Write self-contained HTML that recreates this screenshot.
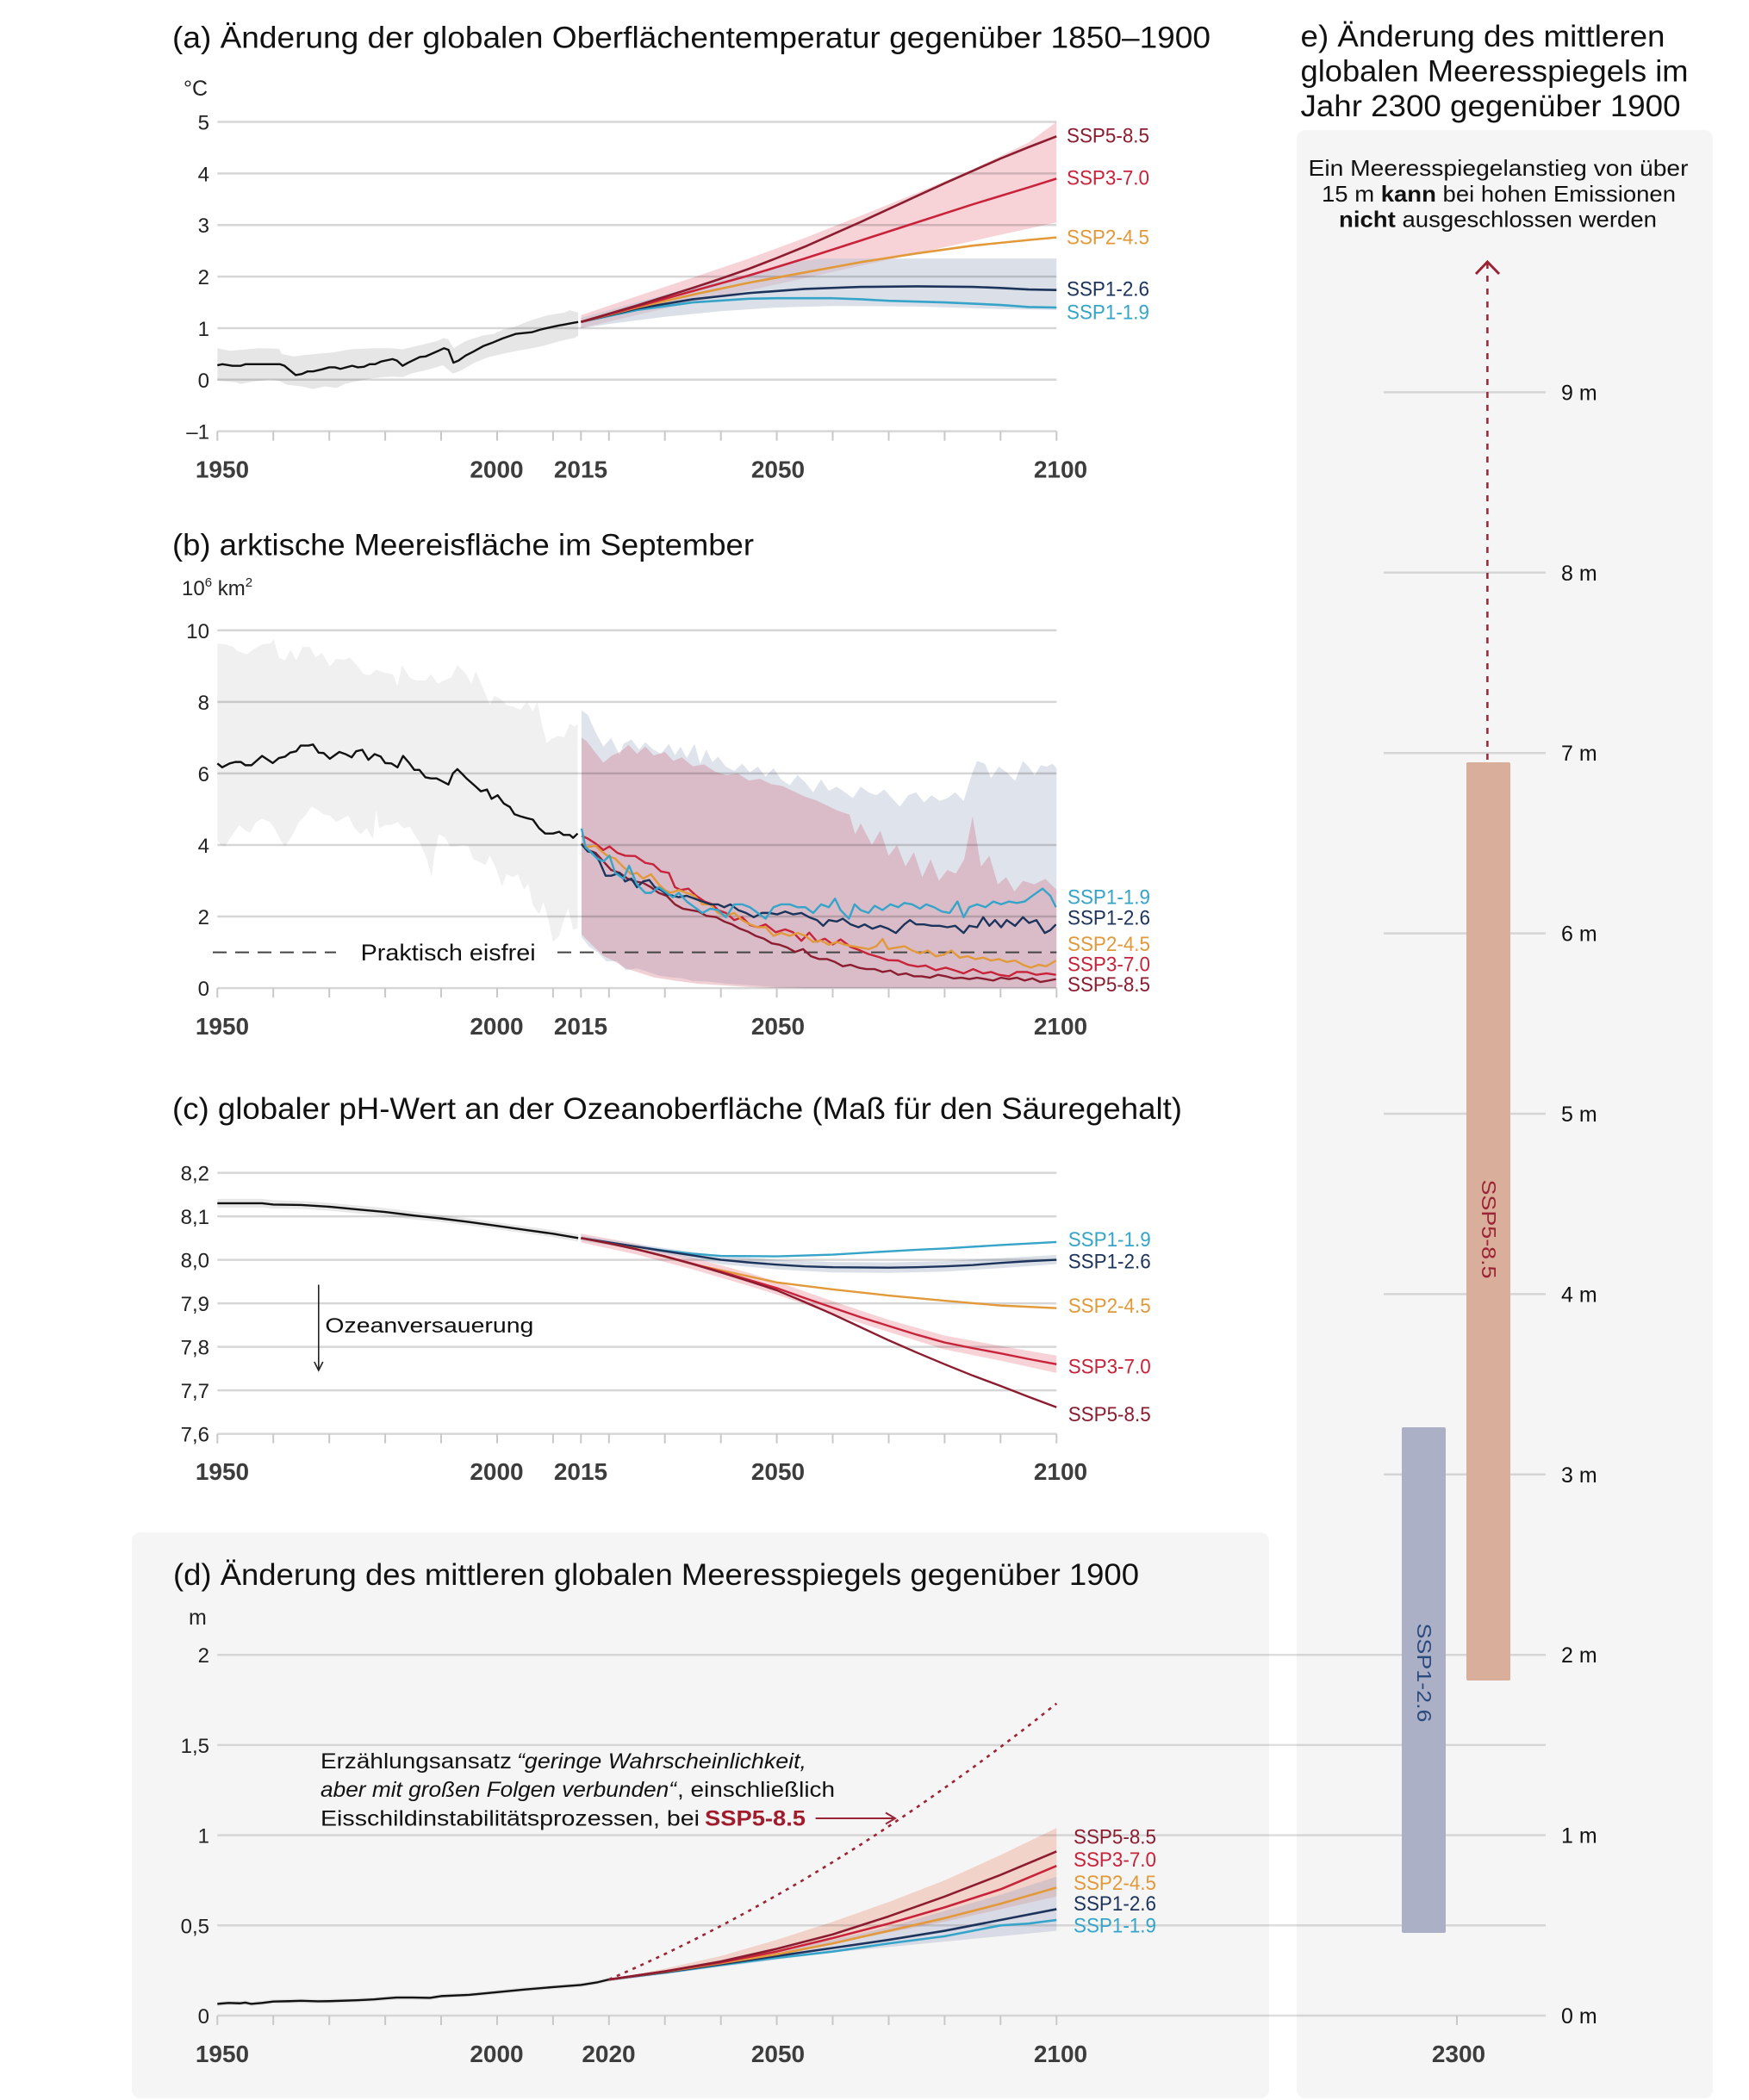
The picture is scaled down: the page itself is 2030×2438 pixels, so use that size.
<!DOCTYPE html>
<html><head><meta charset="utf-8"><style>
html,body{margin:0;padding:0;background:#fff;}
svg{display:block;}
text{font-family:"Liberation Sans",Arial,sans-serif;}
</style></head><body>
<svg xmlns="http://www.w3.org/2000/svg" width="2030" height="2438">
<defs>
<path id="tk" d="M252.3 0v11M317.2 0v11M382.2 0v11M447.1 0v11M512 0v11M577 0v11M641.9 0v11M674.3 0v11M706.8 0v11M771.7 0v11M836.7 0v11M901.6 0v11M966.5 0v11M1031.5 0v11M1096.4 0v11M1161.3 0v11M1226.3 0v11" stroke="#c8c8c8" stroke-width="2" fill="none"/>
<path id="tkd" d="M252.3 0v11M317.2 0v11M382.2 0v11M447.1 0v11M512 0v11M577 0v11M641.9 0v11M706.8 0v11M771.7 0v11M836.7 0v11M901.6 0v11M966.5 0v11M1031.5 0v11M1096.4 0v11M1161.3 0v11M1226.3 0v11" stroke="#c8c8c8" stroke-width="2" fill="none"/>
</defs>
<rect width="2030" height="2438" fill="#fff"/>
<!-- panel backgrounds -->
<rect x="153" y="1779" width="1320" height="657" rx="10" fill="#f5f5f5"/>
<rect x="1505" y="151" width="483" height="2285" rx="10" fill="#f5f5f5"/>

<!-- ================= PANEL A ================= -->
<text x="200" y="55.5" font-size="35" fill="#111" textLength="1205" lengthAdjust="spacingAndGlyphs">(a) Änderung der globalen Oberflächentemperatur gegenüber 1850–1900</text>
<text x="213" y="111" font-size="25" fill="#222">°C</text>
<g transform="translate(252.3,440.8) scale(6.493,-59.85)">
<polygon fill="#e6e6e6" points="0,0.61 2.2,0.56 5.3,0.59 7.3,0.61 11,0.6 11.5,0.5 13.6,0.45 15.6,0.48 17.7,0.5 20.7,0.53 23.8,0.59 27.9,0.61 31,0.61 33.1,0.59 36.2,0.67 39.3,0.75 40.5,0.81 41.3,0.78 42.2,0.61 44.4,0.75 47.5,0.86 49.5,0.89 51,0.97 53,1.02 56,1.15 59,1.25 62,1.3 63,1.35 64.5,1.3 64.5,0.85 63.8,0.81 61.3,0.75 58.7,0.67 56.7,0.62 53.6,0.56 51,0.5 48.5,0.44 46,0.33 43.4,0.17 42.1,0.12 40.3,0.28 38.5,0.22 36.7,0.17 34.7,0.12 33.1,0.05 31,0.06 27.9,0.03 25.3,-0.02 22.8,-0.08 21.3,-0.16 19.2,-0.13 17.1,-0.18 15.1,-0.13 12.5,-0.1 11,-0.02 9.3,0 6.2,-0.04 4.2,-0.08 3.2,-0.05 0,-0.02"/>
<polygon fill="#f7d3d8" points="65,1.25 75,1.62 85,1.98 95,2.35 105,2.75 115,3.18 125,3.62 135,4.08 145,4.6 150,5.0 150,3.05 125,2.45 100,1.85 80,1.38 65,1.0"/>
<polygon fill="#b8c2d2" fill-opacity="0.5" points="65,1.2 75,1.5 85,1.8 95,2.05 103,2.28 108,2.35 150,2.35 150,1.35 140,1.37 125,1.42 110,1.43 100,1.4 90,1.33 80,1.22 70,1.08 65,1.0"/>
</g>
<g stroke="#000" stroke-opacity="0.16" stroke-width="2.5">
<line x1="252.3" x2="1226.3" y1="141.55" y2="141.55"/>
<line x1="252.3" x2="1226.3" y1="201.4" y2="201.4"/>
<line x1="252.3" x2="1226.3" y1="261.25" y2="261.25"/>
<line x1="252.3" x2="1226.3" y1="321.1" y2="321.1"/>
<line x1="252.3" x2="1226.3" y1="380.95" y2="380.95"/>
<line x1="252.3" x2="1226.3" y1="440.8" y2="440.8"/>
<line x1="252.3" x2="1226.3" y1="500.65" y2="500.65"/>
</g>
<use href="#tk" y="500.6"/>
<g transform="translate(252.3,440.8) scale(6.493,-59.85)" fill="none" stroke-linejoin="round">
<polyline vector-effect="non-scaling-stroke" stroke="#111" stroke-width="2.4" points="0,0.28 0.9,0.3 2.7,0.27 4.2,0.27 5,0.3 11.2,0.3 12,0.27 14,0.09 15.1,0.11 16.1,0.16 17.1,0.16 18.7,0.2 20,0.24 21,0.24 22,0.21 24.1,0.27 25.1,0.24 26.2,0.25 27.2,0.3 28.2,0.3 29.2,0.35 31.3,0.4 32.1,0.37 33.1,0.27 34.1,0.33 36.2,0.44 37.2,0.45 39.3,0.55 40.5,0.61 41.3,0.58 42.2,0.33 43.1,0.37 44.4,0.47 45.7,0.54 47.5,0.65 49,0.71 51,0.8 53.4,0.89 56.2,0.92 57.7,0.97 59.3,1.01 61,1.05 62,1.07 63.5,1.1 64.5,1.12"/>
<polyline vector-effect="non-scaling-stroke" stroke="#36a4c9" stroke-width="2.6" points="65,1.12 75,1.35 85,1.5 95,1.57 100,1.58 110,1.58 115,1.56 120,1.53 130,1.5 140,1.45 145,1.41 150,1.4"/>
<polyline vector-effect="non-scaling-stroke" stroke="#1c335c" stroke-width="2.6" points="65,1.12 75,1.38 85,1.56 95,1.68 105,1.76 115,1.8 125,1.81 135,1.8 140,1.78 145,1.75 150,1.74"/>
<polyline vector-effect="non-scaling-stroke" stroke="#e2993a" stroke-width="2.6" points="65,1.12 75,1.4 85,1.65 95,1.88 105,2.08 115,2.28 125,2.45 135,2.6 145,2.71 150,2.76"/>
<polyline vector-effect="non-scaling-stroke" stroke="#c8233a" stroke-width="2.6" points="65,1.12 75,1.42 85,1.72 95,2.02 105,2.35 115,2.7 125,3.05 135,3.4 145,3.73 150,3.9"/>
<polyline vector-effect="non-scaling-stroke" stroke="#8c1c2f" stroke-width="2.6" points="65,1.12 70,1.28 75,1.44 80,1.61 85,1.78 90,1.96 95,2.15 100,2.36 105,2.58 110,2.82 115,3.06 120,3.31 125,3.56 130,3.81 135,4.05 140,4.29 145,4.51 150,4.72"/>
</g>
<g font-size="24" fill="#222" text-anchor="end">
<text x="243" y="150.5">5</text><text x="243" y="210.4">4</text><text x="243" y="270.2">3</text><text x="243" y="330.1">2</text><text x="243" y="390">1</text><text x="243" y="449.8">0</text><text x="243" y="509.6">–1</text>
</g>
<g font-size="28" font-weight="bold" fill="#3d3d3d" text-anchor="middle">
<text x="258" y="554.6">1950</text><text x="576.5" y="554.6">2000</text><text x="674" y="554.6">2015</text><text x="903" y="554.6">2050</text><text x="1231" y="554.6">2100</text>
</g>
<g font-size="24">
<text x="1238" y="165.7" fill="#8c1c2f" textLength="96" lengthAdjust="spacingAndGlyphs">SSP5-8.5</text>
<text x="1238" y="214.3" fill="#c8233a" textLength="96" lengthAdjust="spacingAndGlyphs">SSP3-7.0</text>
<text x="1238" y="283.3" fill="#e2993a" textLength="96" lengthAdjust="spacingAndGlyphs">SSP2-4.5</text>
<text x="1238" y="343.3" fill="#1c335c" textLength="96" lengthAdjust="spacingAndGlyphs">SSP1-2.6</text>
<text x="1238" y="370.7" fill="#36a4c9" textLength="96" lengthAdjust="spacingAndGlyphs">SSP1-1.9</text>
</g>

<!-- ================= PANEL B ================= -->
<text x="200" y="644.5" font-size="35" fill="#111" textLength="675" lengthAdjust="spacingAndGlyphs">(b) arktische Meereisfläche im September</text>
<text x="211" y="691" font-size="24" fill="#222">10<tspan font-size="15" dy="-10">6</tspan><tspan dy="10"> km</tspan><tspan font-size="15" dy="-10">2</tspan></text>
<g transform="translate(252.3,1147.1) scale(6.493,-41.53)">
<polygon fill="#f0f0f0" points="0,9.63 1.4,9.61 2.8,9.54 3.6,9.42 5.3,9.33 6.4,9.46 8,9.61 9.4,9.63 10.1,9.74 11,9.24 12.1,9.16 13.1,9.46 14.1,9.16 15.2,9.53 16.5,9.54 17.6,9.24 18.7,9.37 20.1,8.99 21.2,9.2 22.6,9.18 23.7,9.24 25.1,8.99 26.2,8.77 27.3,8.75 28.4,8.9 30,8.81 31.4,8.77 32.2,8.43 33,9.03 34.4,8.68 35.5,8.6 37.2,8.6 38.2,8.77 39.4,8.51 40.5,8.6 41.8,8.68 42.9,9.03 44.3,8.81 45.4,8.51 46.2,8.86 47.6,8.34 48.7,7.91 49.5,8.17 50.6,8.08 51.7,7.91 52.8,7.87 54.2,7.78 55.3,8 56.4,7.74 57.2,8 58.1,7.31 58.9,6.84 59.7,6.96 60.9,7.05 62,7.01 63,7.39 63.9,7.31 64.4,7.39 64.4,1.68 63.6,1.63 62.7,2.24 61.9,1.89 61.1,1.46 60,1.29 59.2,1.89 58.3,2.41 57.5,2.06 56.4,2.32 55.6,2.92 54.8,2.75 53.7,3.18 52.8,3.1 51.7,3.18 50.9,2.84 49.8,3.35 48.7,3.7 47.9,3.44 46.8,3.53 45.7,3.61 44.9,3.96 43.8,4 42.7,3.96 41.6,3.96 40.7,4.21 39.6,4.3 38.8,3.74 38.3,3.1 37.4,3.61 36.3,4.04 35.2,4.3 34.4,4.51 33.3,4.47 32.2,4.64 31.1,4.56 30,4.56 28.9,4.47 28.4,4.99 27.8,4.17 26.7,4.47 25.6,4.3 24.5,4.47 23.4,4.82 22.3,4.73 21.2,4.64 20.1,4.82 19,4.86 17.9,4.99 16.8,5.07 15.7,4.82 14.6,4.64 13.5,4.3 12.1,3.96 11.3,4.13 10.2,4.47 9.4,4.64 8,4.73 6.9,4.64 5.8,4.34 4.8,4.43 3.9,4.56 3.1,4.38 2.2,4.17 1.4,3.96 0.6,4 0,4.13"/>
<polygon fill="#dfe3eb" points="65.1,7.76 66.2,7.64 67.6,7.15 69,6.75 70.4,6.99 71.9,6.51 72.6,6.83 74,6.95 75.4,6.67 76.5,6.87 77.9,6.67 79.3,6.55 80.7,6.83 81.8,6.51 82.8,6.75 83.9,6.43 85.3,6.83 86.3,6.27 87.4,6.67 88.5,6.31 89.5,6.47 90.9,6.19 92.4,6.07 93.8,6.27 95.2,6.03 96.6,6.19 98,5.91 99.4,6.15 100.8,5.83 102.3,5.67 103.7,5.95 105.1,5.75 106.5,5.47 107.9,5.83 109.3,5.51 110.7,5.63 112.2,5.47 113.6,5.31 115,5.63 116.4,5.47 117.8,5.39 119.2,5.55 120.6,5.31 122,5.07 123.5,5.39 124.9,5.47 126.3,5.19 127.7,5.39 129.1,5.23 130.5,5.31 131.9,5.47 133.4,5.23 134.8,5.95 135.8,6.35 137.2,6.27 138.3,5.87 139.7,6.19 141.1,6.03 142.6,5.79 144,6.35 145,6.19 146.1,5.95 147.2,6.23 148.2,6.19 149.3,6.27 150,6.15 150,0 105,0 100,0.03 95,0.08 91,0.12 88,0.18 85,0.2 83,0.28 81,0.3 79,0.35 77,0.45 75,0.55 73,0.5 71.5,0.75 69.5,0.75 68,1 66.5,1.15 65.1,1.42"/>
<polygon fill="rgb(205,100,115)" fill-opacity="0.3" points="65.1,7.0 66,6.9 67.5,6.6 69,6.3 70.5,6.5 72,6.6 73.5,6.8 75,6.55 76.5,6.75 78,6.5 80,6.6 81.5,6.35 83,6.45 85,6.2 87,6.25 89,6.05 91,5.95 93,6.0 95,5.8 97,5.85 99,5.7 101,5.65 103,5.5 105,5.35 107,5.25 109,5.1 111,4.95 113,4.85 114,4.3 115,4.6 117,4.0 118.5,4.4 120,3.7 121.5,4.0 123,3.4 124.5,3.8 126,3.1 127.5,3.6 129,3.0 130.5,3.3 132,3.2 133.5,3.6 135,4.8 136.5,3.4 138,3.7 139.5,2.9 141,3.1 142.5,2.7 144,3.0 146,2.9 148,3.05 150,2.75 150,0 100,0 95,0.03 90,0.08 86,0.12 82,0.2 78,0.3 75,0.45 73,0.55 71,0.75 69,0.9 67,1.2 65.1,1.5"/>
</g>
<g stroke="#000" stroke-opacity="0.16" stroke-width="2.5">
<line x1="252.3" x2="1226.3" y1="731.8" y2="731.8"/>
<line x1="252.3" x2="1226.3" y1="814.9" y2="814.9"/>
<line x1="252.3" x2="1226.3" y1="897.9" y2="897.9"/>
<line x1="252.3" x2="1226.3" y1="981" y2="981"/>
<line x1="252.3" x2="1226.3" y1="1064" y2="1064"/>
<line x1="252.3" x2="1226.3" y1="1147.1" y2="1147.1"/>
</g>
<use href="#tk" y="1147.1"/>
<g stroke="#444" stroke-width="2" stroke-dasharray="16 10">
<line x1="247" x2="390" y1="1105.6" y2="1105.6"/>
<line x1="647" x2="1226.3" y1="1105.6" y2="1105.6"/>
</g>
<text x="418.6" y="1115" font-size="27" fill="#111" textLength="203" lengthAdjust="spacingAndGlyphs">Praktisch eisfrei</text>
<g transform="translate(252.3,1147.1) scale(6.493,-41.53)" fill="none" stroke-linejoin="round">
<polyline vector-effect="non-scaling-stroke" stroke="#111" stroke-width="2.4" points="0,6.28 0.86,6.17 2.2,6.28 3.2,6.32 4.2,6.32 5,6.23 6.1,6.23 8,6.49 9.9,6.29 11,6.43 12.1,6.47 13,6.58 14.1,6.62 14.9,6.78 16.3,6.78 17.1,6.81 18.1,6.58 19,6.57 20.1,6.41 21.8,6.6 22.9,6.54 24,6.45 24.8,6.62 25.9,6.66 27,6.38 28.1,6.54 29.2,6.47 30,6.29 31.1,6.28 32.2,6.17 33.2,6.49 34.3,6.29 35.2,6.1 36.1,6.1 37.2,5.89 38.2,5.86 39.2,5.86 40.2,5.78 41.3,5.69 42.1,6 42.9,6.12 43.8,5.98 44.6,5.85 46.2,5.63 47.1,5.5 48.2,5.55 49,5.29 50.1,5.39 51.2,5.16 52.3,5.06 53.1,4.86 54.2,4.8 55.3,4.75 56.4,4.71 57.5,4.47 58.6,4.32 60,4.32 61.1,4.37 61.9,4.28 63,4.28 63.6,4.2 64.4,4.32"/>
<polyline vector-effect="non-scaling-stroke" stroke="#8c1c2f" stroke-width="2.4" points="65.1,4.04 66.2,3.86 67.6,3.78 69,3.54 70.4,3.3 71.9,3.22 73.3,3.06 74.7,2.98 76.1,2.94 77.5,2.82 78.9,2.66 80.3,2.58 81.8,2.34 83.2,2.22 84.6,2.18 86,2.14 87.4,2.02 89.2,1.98 90.6,1.86 92,1.78 93.4,1.66 94.8,1.58 96.2,1.46 97.7,1.38 99.1,1.25 100.5,1.21 101.9,1.13 103.3,1.01 104.7,1.09 106.1,0.89 107.6,0.81 109,0.81 110.4,0.73 111.8,0.61 113.2,0.65 114.6,0.57 116,0.53 117.5,0.53 118.9,0.45 120.3,0.49 121.7,0.37 123.1,0.41 124.5,0.33 125.9,0.33 127.4,0.29 128.8,0.37 130.2,0.33 131.6,0.27 133,0.29 134.4,0.25 135.8,0.29 137.3,0.25 138.7,0.21 140.1,0.29 141.5,0.25 142.9,0.29 144.3,0.21 145.7,0.27 147.1,0.17 148.6,0.21 149.9,0.25"/>
<polyline vector-effect="non-scaling-stroke" stroke="#c8233a" stroke-width="2.4" points="65.1,4.26 66.2,4.18 67.6,4.04 69,3.86 70.1,3.96 71.5,3.78 72.9,3.7 74.7,3.69 76.5,3.5 77.9,3.46 79.3,3.26 80.7,3.22 81.8,2.82 82.8,2.74 84.2,2.78 85.6,2.58 87.1,2.42 88.5,2.34 89.5,2.18 90.9,2.1 92.4,1.9 93.8,1.98 95.2,1.76 96.6,1.7 98,1.78 99.8,1.56 101.5,1.64 102.9,1.56 104.4,1.32 105.8,1.55 107.2,1.3 108.6,1.38 110,1.22 111.4,1.36 113.2,1.15 114.6,1.07 116.4,0.95 118.2,0.87 119.9,0.78 121.7,0.77 123.5,0.65 125.2,0.6 126.6,0.63 128.4,0.5 130.2,0.57 131.9,0.49 133.4,0.41 135.1,0.53 136.9,0.41 138.3,0.45 139.7,0.37 141.5,0.33 142.9,0.45 144.7,0.45 146.4,0.37 148.2,0.41 149.9,0.37"/>
<polyline vector-effect="non-scaling-stroke" stroke="#e2993a" stroke-width="2.4" points="65.1,4.02 66.2,3.94 67.6,3.98 68.7,3.82 69.7,3.7 71.1,3.62 72.6,3.38 74,3.18 75,3.22 76.1,3.06 77.5,3.18 78.9,2.9 80,2.74 81,2.66 82.5,2.74 83.9,2.66 85.3,2.58 86.7,2.34 88.1,2.34 89.5,2.1 90.9,2.02 92.4,2.1 93.8,1.9 95.2,1.78 96.6,1.7 98,1.7 99.4,1.46 100.8,1.54 102.3,1.46 103.7,1.54 105.1,1.46 106.5,1.29 107.9,1.33 109.3,1.21 110.7,1.29 112.2,1.21 113.6,1.17 115,1.13 116.4,1.09 117.8,1.17 118.9,1.37 119.9,1.09 121.3,1.13 122.8,1.17 124.2,1.05 125.6,0.97 127,1.05 128.4,0.89 129.8,0.93 131.2,1.05 132.7,0.85 134.1,0.89 135.5,0.81 136.9,0.85 138.3,0.77 139.7,0.81 141.1,0.73 142.6,0.77 144,0.65 145.4,0.57 146.8,0.65 148.2,0.61 149.9,0.77"/>
<polyline vector-effect="non-scaling-stroke" stroke="#1c335c" stroke-width="2.4" points="65.1,4.02 66.2,3.82 67.3,3.78 68.3,3.54 69.4,3.14 70.4,3.14 71.9,3.22 72.9,2.98 74,3.06 75,2.82 76.1,2.98 77.2,3.02 78.2,2.82 79.3,2.74 80.3,2.62 81.4,2.58 82.5,2.54 83.9,2.58 85.3,2.5 86.7,2.42 88.1,2.34 89.5,2.34 90.6,2.26 91.7,2.34 93.1,2.18 94.5,2.1 95.9,1.98 97.3,2.1 98.7,2.1 100.1,2.06 101.5,2.14 102.9,2.06 104.4,2.1 105.8,1.98 107.2,1.9 108.3,1.74 109.3,1.9 110.7,1.86 111.8,1.94 113.2,1.78 114.6,1.7 115.7,1.78 117.1,1.66 118.5,1.74 119.9,1.66 121.3,1.54 122.8,1.78 123.8,1.9 124.9,1.78 126.3,1.78 127.7,1.74 129.1,1.74 130.5,1.7 131.9,1.74 133.4,1.54 134.4,1.74 135.8,1.7 136.9,1.98 138,1.74 139,1.9 140.1,1.7 141.1,1.9 142.6,1.74 144,1.98 145.1,1.82 146.4,1.9 147.9,1.54 148.9,1.62 149.9,1.78"/>
<polyline vector-effect="non-scaling-stroke" stroke="#36a4c9" stroke-width="2.4" points="65.1,4.46 65.8,3.94 66.9,3.78 67.9,3.62 69,3.54 70.1,3.7 71.1,3.22 72.6,3.06 73.6,3.42 75,2.9 76.5,2.66 77.5,2.66 78.9,2.82 80,2.7 81.4,2.54 82.5,2.66 83.9,2.42 85.3,2.26 86.7,2.1 88.1,2.22 89.5,2.18 90.9,1.98 92.4,2.34 93.8,2.34 95.2,2.26 96.6,2.1 98,1.94 99.4,2.26 100.8,2.34 102.3,2.34 103.7,2.26 105.1,2.26 106.5,2.1 107.9,2.34 109.3,2.26 110.4,2.5 111.4,2.18 112.9,1.94 113.9,2.34 115,2.18 116.4,2.1 117.5,2.3 118.9,2.18 120.3,2.34 121.7,2.26 122.8,2.38 124.2,2.34 125.6,2.22 126.7,2.34 128.1,2.26 129.5,2.14 130.9,2.1 132.3,2.42 133.4,1.98 134.4,2.26 135.8,2.34 137.3,2.26 138.7,2.42 140.1,2.34 141.5,2.42 142.9,2.38 144.3,2.42 145.7,2.58 147.5,2.78 148.9,2.58 149.9,2.26"/>
</g>
<g font-size="24" fill="#222" text-anchor="end">
<text x="243" y="740.8">10</text><text x="243" y="823.9">8</text><text x="243" y="906.9">6</text><text x="243" y="990">4</text><text x="243" y="1073">2</text><text x="243" y="1156.1">0</text>
</g>
<g font-size="28" font-weight="bold" fill="#3d3d3d" text-anchor="middle">
<text x="258" y="1201">1950</text><text x="576.5" y="1201">2000</text><text x="674" y="1201">2015</text><text x="903" y="1201">2050</text><text x="1231" y="1201">2100</text>
</g>
<g font-size="24">
<text x="1239" y="1049.3" fill="#36a4c9" textLength="96" lengthAdjust="spacingAndGlyphs">SSP1-1.9</text>
<text x="1239" y="1073.4" fill="#1c335c" textLength="96" lengthAdjust="spacingAndGlyphs">SSP1-2.6</text>
<text x="1239" y="1104" fill="#e2993a" textLength="96" lengthAdjust="spacingAndGlyphs">SSP2-4.5</text>
<text x="1239" y="1127.4" fill="#c8233a" textLength="96" lengthAdjust="spacingAndGlyphs">SSP3-7.0</text>
<text x="1239" y="1150.8" fill="#8c1c2f" textLength="96" lengthAdjust="spacingAndGlyphs">SSP5-8.5</text>
</g>

<!-- ================= PANEL C ================= -->
<text x="200" y="1299" font-size="35" fill="#111" textLength="1172" lengthAdjust="spacingAndGlyphs">(c) globaler pH-Wert an der Ozeanoberfläche (Maß für den Säuregehalt)</text>
<g transform="translate(252.3,5502.6) scale(6.493,-505)">
<polygon fill="#e8e8e8" points="0,8.14 8,8.14 10,8.137 15,8.135 20,8.131 25,8.125 30,8.119 35,8.111 40,8.103 45,8.095 50,8.086 55,8.077 60,8.068 64.5,8.058 64.5,8.042 60,8.052 55,8.061 50,8.07 45,8.079 40,8.087 35,8.093 30,8.101 25,8.107 20,8.113 15,8.117 10,8.118 8,8.12 0,8.12"/>
<polygon fill="#f7d3d8" points="65,8.06 75,8.037 85,8.005 95,7.97 100,7.95 110,7.905 120,7.862 130,7.826 140,7.802 150,7.78 150,7.74 140,7.768 130,7.794 120,7.834 110,7.875 100,7.92 95,7.94 85,7.978 75,8.012 65,8.04"/>
<polygon fill="#b8c2d2" fill-opacity="0.5" points="65,8.056 75,8.036 85,8.018 90,8.01 100,8.0 110,7.995 120,7.994 130,7.997 140,8.004 150,8.011 150,7.99 140,7.981 130,7.973 120,7.97 110,7.971 100,7.978 90,7.99 85,8.002 75,8.024 65,8.044"/>
</g>
<g stroke="#000" stroke-opacity="0.16" stroke-width="2.5">
<line x1="252.3" x2="1226.3" y1="1361.6" y2="1361.6"/>
<line x1="252.3" x2="1226.3" y1="1412.1" y2="1412.1"/>
<line x1="252.3" x2="1226.3" y1="1462.6" y2="1462.6"/>
<line x1="252.3" x2="1226.3" y1="1513.1" y2="1513.1"/>
<line x1="252.3" x2="1226.3" y1="1563.6" y2="1563.6"/>
<line x1="252.3" x2="1226.3" y1="1614.1" y2="1614.1"/>
<line x1="252.3" x2="1226.3" y1="1664.6" y2="1664.6"/>
</g>
<use href="#tk" y="1664.6"/>
<g transform="translate(252.3,5502.6) scale(6.493,-505)" fill="none" stroke-linejoin="round">
<polyline vector-effect="non-scaling-stroke" stroke="#111" stroke-width="2.4" points="0,8.13 8,8.13 10,8.127 15,8.126 20,8.122 25,8.116 30,8.11 35,8.102 40,8.095 45,8.087 50,8.078 55,8.069 60,8.06 64.5,8.05"/>
<polyline vector-effect="non-scaling-stroke" stroke="#36a4c9" stroke-width="2.4" points="65,8.05 70,8.04 75,8.03 80,8.021 85,8.014 90,8.009 100,8.008 110,8.012 118,8.018 125,8.023 130,8.026 140,8.034 150,8.041"/>
<polyline vector-effect="non-scaling-stroke" stroke="#1c335c" stroke-width="2.4" points="65,8.05 75,8.03 85,8.01 90,8.0 95,7.994 100,7.989 105,7.985 110,7.983 120,7.982 125,7.983 130,7.985 135,7.988 140,7.993 145,7.997 150,8.0"/>
<polyline vector-effect="non-scaling-stroke" stroke="#e2993a" stroke-width="2.4" points="65,8.05 75,8.025 85,7.99 95,7.962 100,7.948 110,7.932 120,7.918 130,7.906 140,7.895 150,7.889"/>
<polyline vector-effect="non-scaling-stroke" stroke="#c8233a" stroke-width="2.4" points="65,8.05 70,8.038 75,8.024 80,8.008 85,7.991 90,7.973 95,7.954 100,7.935 105,7.912 110,7.89 115,7.868 120,7.848 125,7.828 130,7.81 135,7.797 140,7.785 145,7.772 150,7.76"/>
<polyline vector-effect="non-scaling-stroke" stroke="#8c1c2f" stroke-width="2.4" points="65,8.05 70,8.038 75,8.024 80,8.008 85,7.99 90,7.971 95,7.951 100,7.93 105,7.903 110,7.875 115,7.845 120,7.815 125,7.787 130,7.76 135,7.734 140,7.71 145,7.685 150,7.661"/>
</g>
<g font-size="24" fill="#222" text-anchor="end">
<text x="243" y="1370.6">8,2</text><text x="243" y="1421.1">8,1</text><text x="243" y="1471.6">8,0</text><text x="243" y="1522.1">7,9</text><text x="243" y="1572.6">7,8</text><text x="243" y="1623.1">7,7</text><text x="243" y="1673.6">7,6</text>
</g>
<line x1="369.8" y1="1491.5" x2="369.8" y2="1590" stroke="#222" stroke-width="1.6"/>
<polyline points="364.8,1581 369.8,1591 374.8,1581" fill="none" stroke="#222" stroke-width="1.6"/>
<text x="377.4" y="1547" font-size="24" fill="#111" textLength="242" lengthAdjust="spacingAndGlyphs">Ozeanversauerung</text>
<g font-size="28" font-weight="bold" fill="#3d3d3d" text-anchor="middle">
<text x="258" y="1718">1950</text><text x="576.5" y="1718">2000</text><text x="674" y="1718">2015</text><text x="903" y="1718">2050</text><text x="1231" y="1718">2100</text>
</g>
<g font-size="24">
<text x="1239.7" y="1447" fill="#36a4c9" textLength="96" lengthAdjust="spacingAndGlyphs">SSP1-1.9</text>
<text x="1239.7" y="1472.4" fill="#1c335c" textLength="96" lengthAdjust="spacingAndGlyphs">SSP1-2.6</text>
<text x="1239.7" y="1524" fill="#e2993a" textLength="96" lengthAdjust="spacingAndGlyphs">SSP2-4.5</text>
<text x="1239.7" y="1594.6" fill="#c8233a" textLength="96" lengthAdjust="spacingAndGlyphs">SSP3-7.0</text>
<text x="1239.7" y="1650" fill="#8c1c2f" textLength="96" lengthAdjust="spacingAndGlyphs">SSP5-8.5</text>
</g>

<!-- ================= PANEL D ================= -->
<text x="201" y="1840" font-size="35" fill="#111" textLength="1121" lengthAdjust="spacingAndGlyphs">(d) Änderung des mittleren globalen Meeresspiegels gegenüber 1900</text>
<text x="219" y="1886" font-size="25" fill="#222">m</text>
<g transform="translate(252.3,2340) scale(6.493,-209.4)">
<polygon fill="#e3e3e3" points="0,0.077 2,0.082 4,0.08 5,0.084 6,0.077 8,0.082 10,0.09 13,0.092 15,0.094 18,0.091 20,0.092 25,0.097 28,0.102 30,0.107 32,0.112 35,0.112 38,0.11 40,0.12 45,0.127 50,0.142 55,0.157 60,0.17 63,0.177 65,0.182 68,0.197 70,0.212 70,0.188 68,0.173 65,0.158 63,0.153 60,0.146 55,0.133 50,0.118 45,0.103 40,0.096 38,0.086 35,0.088 32,0.088 30,0.083 28,0.078 25,0.073 20,0.068 18,0.067 15,0.07 13,0.068 10,0.066 8,0.058 6,0.053 5,0.06 4,0.056 2,0.058 0,0.053"/>
<polygon fill="rgb(240,170,150)" fill-opacity="0.45" points="70,0.2 80,0.26 90,0.33 100,0.42 110,0.52 120,0.63 130,0.75 140,0.89 150,1.04 150,0.66 140,0.59 130,0.52 120,0.46 110,0.4 100,0.34 90,0.28 80,0.235 70,0.19"/>
<polygon fill="rgb(150,160,195)" fill-opacity="0.3" points="70,0.2 80,0.25 90,0.3 100,0.36 110,0.42 120,0.49 130,0.58 140,0.67 150,0.77 150,0.47 140,0.44 130,0.41 120,0.38 110,0.35 100,0.31 90,0.27 80,0.23 70,0.19"/>
</g>
<g stroke="#000" stroke-opacity="0.13" stroke-width="2.5">
<line x1="252.3" x2="1794" y1="1921.2" y2="1921.2"/>
<line x1="252.3" x2="1794" y1="2025.9" y2="2025.9"/>
<line x1="252.3" x2="1794" y1="2130.6" y2="2130.6"/>
<line x1="252.3" x2="1794" y1="2235.3" y2="2235.3"/>
<line x1="252.3" x2="1794" y1="2340" y2="2340"/>
<line x1="1606" x2="1794" y1="1711.8" y2="1711.8"/>
<line x1="1606" x2="1794" y1="1502.4" y2="1502.4"/>
<line x1="1606" x2="1794" y1="1293" y2="1293"/>
<line x1="1606" x2="1794" y1="1083.6" y2="1083.6"/>
<line x1="1606" x2="1794" y1="874.2" y2="874.2"/>
<line x1="1606" x2="1794" y1="664.8" y2="664.8"/>
<line x1="1606" x2="1794" y1="455.4" y2="455.4"/>
</g>
<use href="#tkd" y="2340"/>
<path d="M1691 2340v11" stroke="#c8c8c8" stroke-width="2"/>
<g transform="translate(252.3,2340) scale(6.493,-209.4)" fill="none" stroke-linejoin="round">
<polyline vector-effect="non-scaling-stroke" stroke="#111" stroke-width="2.4" points="0,0.065 2,0.07 4,0.068 5,0.072 6,0.065 8,0.07 10,0.078 13,0.08 15,0.082 18,0.079 20,0.08 25,0.085 28,0.09 30,0.095 32,0.1 35,0.1 38,0.098 40,0.108 45,0.115 50,0.13 55,0.145 60,0.158 63,0.165 65,0.17 68,0.185 70,0.2"/>
<polyline vector-effect="non-scaling-stroke" stroke="#36a4c9" stroke-width="2.6" points="70,0.2 80,0.238 90,0.28 100,0.32 110,0.355 120,0.4 130,0.44 140,0.5 145,0.51 150,0.53"/>
<polyline vector-effect="non-scaling-stroke" stroke="#1c335c" stroke-width="2.6" points="70,0.2 80,0.24 90,0.285 100,0.33 110,0.375 120,0.42 130,0.47 140,0.53 150,0.59"/>
<polyline vector-effect="non-scaling-stroke" stroke="#e2993a" stroke-width="2.6" points="70,0.2 80,0.243 90,0.29 100,0.34 110,0.4 120,0.47 130,0.54 140,0.62 150,0.71"/>
<polyline vector-effect="non-scaling-stroke" stroke="#c8233a" stroke-width="2.6" points="70,0.2 80,0.245 90,0.295 100,0.355 110,0.43 120,0.51 130,0.6 140,0.7 150,0.83"/>
<polyline vector-effect="non-scaling-stroke" stroke="#8c1c2f" stroke-width="2.6" points="70,0.2 80,0.245 90,0.3 100,0.37 110,0.45 120,0.55 130,0.66 140,0.78 150,0.91"/>
</g>
<polyline fill="none" stroke="#9b2335" stroke-width="2.6" stroke-dasharray="4 6" points="706.8,2298.1 739.3,2283.7 771.7,2268.6 804.2,2252.7 836.7,2235.9 869.1,2218.5 901.6,2200.3 934.1,2181.5 966.5,2161.8 999,2141.5 1031.5,2120.3 1063.9,2098.4 1096.4,2075.7 1128.9,2052.3 1161.3,2028.2 1193.8,2003.5 1226.3,1977.7"/>
<g font-size="24" fill="#222" text-anchor="end">
<text x="243" y="1930.2">2</text><text x="243" y="2034.9">1,5</text><text x="243" y="2139.6">1</text><text x="243" y="2244.3">0,5</text><text x="243" y="2349">0</text>
</g>
<g font-size="28" font-weight="bold" fill="#3d3d3d" text-anchor="middle">
<text x="258" y="2394">1950</text><text x="576.5" y="2394">2000</text><text x="706.5" y="2394">2020</text><text x="903" y="2394">2050</text><text x="1231" y="2394">2100</text>
<text x="1693" y="2394">2300</text>
</g>
<g font-size="24">
<text x="1246" y="2140.5" fill="#8c1c2f" textLength="96" lengthAdjust="spacingAndGlyphs">SSP5-8.5</text>
<text x="1246" y="2167" fill="#c8233a" textLength="96" lengthAdjust="spacingAndGlyphs">SSP3-7.0</text>
<text x="1246" y="2193.8" fill="#e2993a" textLength="96" lengthAdjust="spacingAndGlyphs">SSP2-4.5</text>
<text x="1246" y="2218.2" fill="#1c335c" textLength="96" lengthAdjust="spacingAndGlyphs">SSP1-2.6</text>
<text x="1246" y="2243.4" fill="#36a4c9" textLength="96" lengthAdjust="spacingAndGlyphs">SSP1-1.9</text>
</g>
<g font-size="25" fill="#111">
<text x="372" y="2053" textLength="222" lengthAdjust="spacingAndGlyphs">Erzählungsansatz</text>
<text x="600" y="2053" font-style="italic" textLength="336" lengthAdjust="spacingAndGlyphs">“geringe Wahrscheinlichkeit,</text>
<text x="372" y="2086" font-style="italic" textLength="413" lengthAdjust="spacingAndGlyphs">aber mit großen Folgen verbunden“</text>
<text x="786" y="2086" textLength="183" lengthAdjust="spacingAndGlyphs">, einschließlich</text>
<text x="372" y="2119.5" textLength="440" lengthAdjust="spacingAndGlyphs">Eisschildinstabilitätsprozessen, bei</text>
<text x="818" y="2119.5" font-weight="bold" fill="#a01c2c" textLength="117" lengthAdjust="spacingAndGlyphs">SSP5-8.5</text>
</g>
<line x1="946.6" y1="2111" x2="1038" y2="2111" stroke="#9b2335" stroke-width="2"/>
<polyline points="1028,2104.5 1039,2111 1028,2117.5" fill="none" stroke="#9b2335" stroke-width="2"/>

<!-- ================= PANEL E ================= -->
<g font-size="35" fill="#111">
<text x="1509.5" y="54" textLength="423" lengthAdjust="spacingAndGlyphs">e) Änderung des mittleren</text>
<text x="1509.5" y="94.6" textLength="450" lengthAdjust="spacingAndGlyphs">globalen Meeresspiegels im</text>
<text x="1509.5" y="135" textLength="441" lengthAdjust="spacingAndGlyphs">Jahr 2300 gegenüber 1900</text>
</g>
<g font-size="26" fill="#111" text-anchor="middle">
<text x="1739" y="204" textLength="441" lengthAdjust="spacingAndGlyphs">Ein Meeresspiegelanstieg von über</text>
<text x="1739.5" y="234" textLength="411" lengthAdjust="spacingAndGlyphs">15 m <tspan font-weight="bold">kann</tspan> bei hohen Emissionen</text>
<text x="1738.5" y="263.5" textLength="369" lengthAdjust="spacingAndGlyphs"><tspan font-weight="bold">nicht</tspan> ausgeschlossen werden</text>
</g>
<rect x="1627" y="1657" width="51" height="587" rx="2" fill="#abb0c6"/>
<rect x="1702" y="885" width="51" height="1066" rx="2" fill="#d9ae9b"/>
<text transform="translate(1645,1942) rotate(90)" text-anchor="middle" font-size="23" fill="#2b4a7e" textLength="115" lengthAdjust="spacingAndGlyphs">SSP1-2.6</text>
<text transform="translate(1720,1427) rotate(90)" text-anchor="middle" font-size="23" fill="#9b2335" textLength="115" lengthAdjust="spacingAndGlyphs">SSP5-8.5</text>
<line x1="1726.4" y1="882" x2="1726.4" y2="306" stroke="#9b2335" stroke-width="2.5" stroke-dasharray="7 8"/>
<polyline points="1713,318 1726.4,304 1740,318" fill="none" stroke="#9b2335" stroke-width="3"/>
<g font-size="25" fill="#111">
<text x="1812" y="464.4">9 m</text>
<text x="1812" y="673.8">8 m</text>
<text x="1812" y="883.2">7 m</text>
<text x="1812" y="1092.6">6 m</text>
<text x="1812" y="1302">5 m</text>
<text x="1812" y="1511.4">4 m</text>
<text x="1812" y="1720.8">3 m</text>
<text x="1812" y="1930.2">2 m</text>
<text x="1812" y="2139.6">1 m</text>
<text x="1812" y="2349">0 m</text>
</g>
</svg>
</body></html>
